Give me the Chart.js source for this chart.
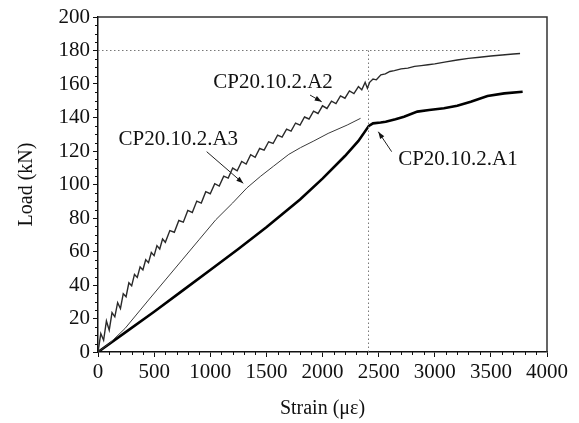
<!DOCTYPE html>
<html>
<head>
<meta charset="utf-8">
<script src="https://cdn.jsdelivr.net/npm/chart.js@4.4.0/dist/chart.umd.min.js"></script>
<style>
  html, body { margin: 0; padding: 0; background: #fff; }
  canvas { display: block; }
</style>
</head>
<body>
<canvas id="c" width="579" height="423"></canvas>
<script>
// ---- Data ----
const strainA1 = [0, 250, 500, 750, 1000, 1250, 1500, 1800, 2000, 2200, 2320, 2413, 2450, 2518, 2563, 2650, 2726, 2845, 2950, 3082, 3200, 3321, 3470, 3619, 3783];
const loadA1   = [0, 12, 24, 36.5, 49, 61.5, 74.5, 91, 103.5, 117, 126, 135, 136.5, 137, 137.5, 139, 140.5, 143.5, 144.5, 145.5, 147, 149.4, 152.8, 154.4, 155.4];

const strainA3 = [0, 100, 240, 450, 600, 750, 900, 1050, 1200, 1327, 1450, 1565, 1700, 1804, 1923, 2050, 2220, 2339];
const loadA3   = [0, 5, 14, 31, 43, 55, 67, 79, 89, 98, 105, 111, 118, 122, 126, 130.5, 135.5, 139.5];

const strainA2 = [0, 25, 50, 75, 100, 125, 150, 175, 200, 225, 250, 275, 300, 325, 350, 375, 400, 425, 450, 475,
  500, 525, 550, 575, 600, 640, 680, 720, 760, 800, 840, 880, 920, 960, 1000, 1040, 1080, 1120, 1160, 1200,
  1240, 1280, 1320, 1360, 1400, 1440, 1480, 1520, 1560, 1600, 1640, 1680, 1720, 1760, 1800, 1840, 1880, 1920, 1960, 2000,
  2040, 2080, 2120, 2160, 2200, 2240, 2280, 2320, 2350, 2380, 2400, 2420, 2450, 2480, 2520, 2560, 2600, 2640, 2700, 2760,
  2820, 2880, 2940, 3000, 3100, 3200, 3300, 3400, 3500, 3600, 3700, 3760];
const loadA2   = [0, 11, 7, 18.5, 13, 23.5, 21, 29.5, 26, 34.8, 33, 41.3, 39.5, 46.3, 44.5, 50.8, 49, 55.1, 53.3, 59.4,
  57.5, 63.5, 61.5, 67.5, 65.5, 72.5, 71.5, 78.5, 77.5, 84.5, 83.3, 90.1, 88.9, 95.7, 94.5, 100.5, 99.1, 105, 103.8, 109.8,
  108.2, 113.8, 112.2, 117.8, 116.2, 121.5, 120.5, 125.5, 124.5, 129.5, 128.3, 133.1, 131.9, 136.7, 135.5, 140.3, 139.1, 143.8, 142.4, 147,
  145.4, 149.8, 148.3, 152.9, 151.5, 155.9, 154.3, 158.5, 156.5, 161, 157.5, 161, 163, 162.5, 165.5, 166, 167.5, 168, 169, 169.5,
  170.5, 171, 171.5, 172, 173.2, 174.3, 175.3, 176, 176.7, 177.3, 177.9, 178.2];

// dotted reference lines
const refStrain = [0, 3590];
const refLoad = 180;
const refVertStrain = 2410;

// tick labels
const xTickValues = [0, 500, 1000, 1500, 2000, 2500, 3000, 3500, 4000];
const yTickValues = [0, 20, 40, 60, 80, 100, 120, 140, 160, 180, 200];

// annotation labels (data units)
const labels = [
  { text: 'CP20.10.2.A2', x: 1559, y: 161.2, ax0: 1889, ay0: 153.4, ax1: 1993, ay1: 149.4 },
  { text: 'CP20.10.2.A3', x: 715,  y: 126.6, ax0: 968,  ay0: 119.6, ax1: 1294, ay1: 100.7 },
  { text: 'CP20.10.2.A1', x: 3207, y: 115,   ax0: 2616, ay0: 119.6, ax1: 2497, ay1: 131.5 }
];

const toPts = (xs, ys) => xs.map((v, i) => ({ x: v, y: ys[i] }));

const FONT = "'Liberation Serif', 'Times New Roman', serif";

const framePlugin = {
  id: 'framePlugin',
  afterDraw(chart) {
    const { ctx, chartArea: a, scales: { x, y } } = chart;
    ctx.save();
    // top and right frame
    ctx.strokeStyle = '#333';
    ctx.lineWidth = 1.5;
    ctx.beginPath();
    ctx.moveTo(a.left, a.top);
    ctx.lineTo(a.right, a.top);
    ctx.lineTo(a.right, a.bottom);
    ctx.stroke();
    // minor ticks
    ctx.strokeStyle = '#111';
    ctx.lineWidth = 1;
    ctx.beginPath();
    for (let v = 0; v <= 4000; v += 100) {
      if (v % 500 === 0) continue;
      const px = Math.round(x.getPixelForValue(v)) + 0.5;
      ctx.moveTo(px, a.bottom);
      ctx.lineTo(px, a.bottom + 3);
    }
    for (let v = 0; v <= 200; v += 5) {
      if (v % 20 === 0) continue;
      const py = Math.round(y.getPixelForValue(v)) + 0.5;
      ctx.moveTo(a.left, py);
      ctx.lineTo(a.left - 3, py);
    }
    ctx.stroke();
    // annotations
    ctx.fillStyle = '#111';
    ctx.font = '21px ' + FONT;
    ctx.textAlign = 'center';
    ctx.textBaseline = 'middle';
    labels.forEach(l => {
      ctx.fillText(l.text, x.getPixelForValue(l.x), y.getPixelForValue(l.y));
      const x0 = x.getPixelForValue(l.ax0), y0 = y.getPixelForValue(l.ay0);
      const x1 = x.getPixelForValue(l.ax1), y1 = y.getPixelForValue(l.ay1);
      ctx.strokeStyle = '#222';
      ctx.lineWidth = 1;
      ctx.beginPath();
      ctx.moveTo(x0, y0);
      ctx.lineTo(x1, y1);
      ctx.stroke();
      const ang = Math.atan2(y1 - y0, x1 - x0);
      const len = 7, w = 2.5;
      ctx.beginPath();
      ctx.moveTo(x1, y1);
      ctx.lineTo(x1 - len * Math.cos(ang) + w * Math.sin(ang), y1 - len * Math.sin(ang) - w * Math.cos(ang));
      ctx.lineTo(x1 - len * Math.cos(ang) - w * Math.sin(ang), y1 - len * Math.sin(ang) + w * Math.cos(ang));
      ctx.closePath();
      ctx.fill();
    });
    ctx.restore();
  }
};

new Chart(document.getElementById('c'), {
  type: 'scatter',
  data: {
    datasets: [
      { label: 'ref-h', data: toPts(refStrain, [refLoad, refLoad]), showLine: true, borderColor: '#777', borderWidth: 1, borderDash: [1.5, 2.5], pointRadius: 0 },
      { label: 'ref-v', data: toPts([refVertStrain, refVertStrain], [0, refLoad]), showLine: true, borderColor: '#777', borderWidth: 1, borderDash: [1.5, 2.5], pointRadius: 0 },
      { label: 'CP20.10.2.A2', data: toPts(strainA2, loadA2), showLine: true, borderColor: '#2a2a2a', borderWidth: 1.4, pointRadius: 0, tension: 0 },
      { label: 'CP20.10.2.A3', data: toPts(strainA3, loadA3), showLine: true, borderColor: '#3a3a3a', borderWidth: 1, pointRadius: 0, tension: 0 },
      { label: 'CP20.10.2.A1', data: toPts(strainA1, loadA1), showLine: true, borderColor: '#000', borderWidth: 2.6, pointRadius: 0, tension: 0 }
    ]
  },
  options: {
    responsive: false,
    animation: false,
    layout: { padding: { left: 0, top: 17, right: 32, bottom: 0 } },
    plugins: { legend: { display: false }, tooltip: { enabled: false } },
    scales: {
      x: {
        type: 'linear', min: 0, max: 4000,
        afterBuildTicks: s => { s.ticks = xTickValues.map(v => ({ value: v })); },
        afterFit: s => { s.height = 71; },
        ticks: { color: '#111', font: { family: FONT, size: 21 }, padding: 3, maxRotation: 0, autoSkip: false, callback: v => String(v) },
        grid: { drawOnChartArea: false, drawTicks: true, tickLength: 5, color: '#111', lineWidth: 1 },
        border: { display: true, color: '#111', width: 1.5 },
        title: { display: true, text: 'Strain (με)', color: '#111', font: { family: FONT, size: 20 }, padding: { top: 0, bottom: 2 } }
      },
      y: {
        type: 'linear', min: 0, max: 200,
        afterBuildTicks: s => { s.ticks = yTickValues.map(v => ({ value: v })); },
        afterFit: s => { s.width = 98; },
        ticks: { color: '#111', font: { family: FONT, size: 21 }, padding: 3, autoSkip: false, callback: v => String(v) },
        grid: { drawOnChartArea: false, drawTicks: true, tickLength: 5, color: '#111', lineWidth: 1 },
        border: { display: true, color: '#111', width: 1.5 },
        title: { display: true, text: 'Load (kN)', color: '#111', font: { family: FONT, size: 20 }, padding: { top: 15, bottom: 0 } }
      }
    }
  },
  plugins: [framePlugin]
});
</script>
</body>
</html>
